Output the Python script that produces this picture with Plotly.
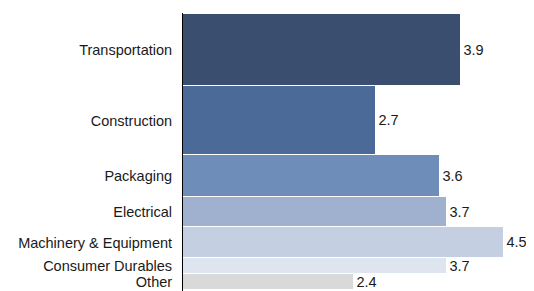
import plotly.graph_objects as go

categories = ["Transportation", "Construction", "Packaging", "Electrical",
              "Machinery & Equipment", "Consumer Durables", "Other"]
growth = [3.9, 2.7, 3.6, 3.7, 4.5, 3.7, 2.4]
share = [26, 25, 15, 11, 11, 5.7, 6]
colors = ["#3A4F6F", "#4B6A97", "#6E8DB8", "#9FB1CF", "#C4CFE1", "#DFE5EF", "#D9D9D9"]

centers = []
acc = 0
for s in share:
    centers.append(acc + s / 2)
    acc += s

fig = go.Figure(go.Bar(
    x=growth, y=centers, width=share, orientation="h",
    marker=dict(color=colors, line=dict(color="white", width=1)),
    text=[f"{v:.1f}" for v in growth], textposition="outside",
    textfont=dict(size=14.5, color="#1a1a1a", family="Liberation Sans, Arial"),
    cliponaxis=False,
))

fig.update_layout(
    width=526, height=283,
    margin=dict(l=175, r=10, t=5, b=0),
    paper_bgcolor="white", plot_bgcolor="white",
    font=dict(family="Liberation Sans, Arial", size=14.5, color="#1a1a1a"),
    showlegend=False,
    xaxis=dict(range=[0, 4.78], visible=False, fixedrange=True),
    yaxis=dict(range=[acc + 0.3, -0.3], tickvals=centers, ticktext=categories,
               showline=True, linecolor="black", linewidth=1, showgrid=False,
               zeroline=False, ticks="", ticklabelstandoff=7),
    bargap=0,
)

fig.write_html("out.html")
